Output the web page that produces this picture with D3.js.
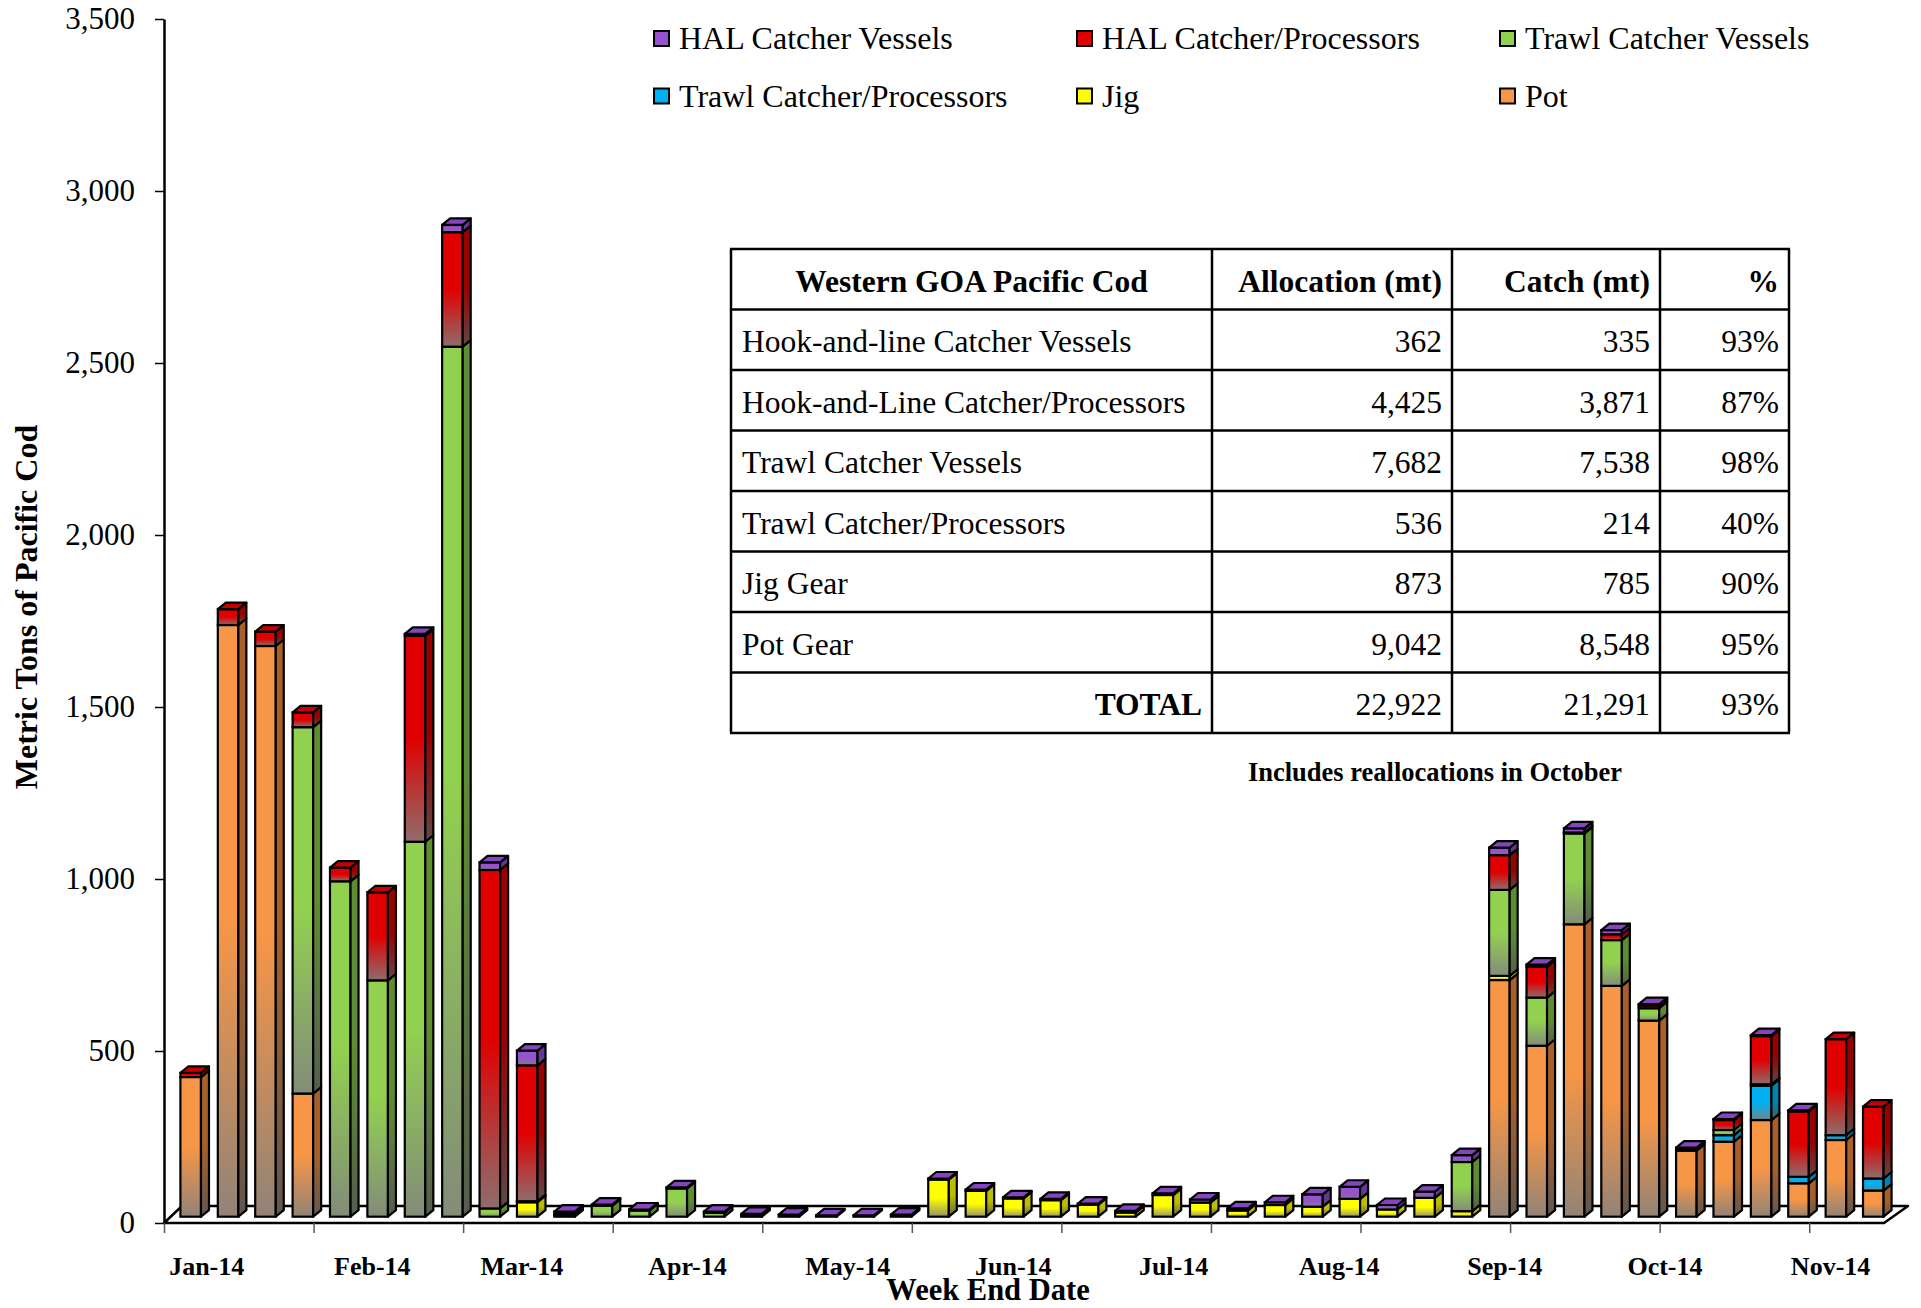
<!DOCTYPE html>
<html>
<head>
<meta charset="utf-8">
<script src="https://cdn.jsdelivr.net/npm/d3@7"></script>
<style>
  body { margin: 0; background: #fff; }
  svg { display: block; font-family: 'Liberation Serif', 'Times New Roman', serif; }
</style>
</head>
<body>
<svg width="1921" height="1308"></svg>
<script>
// week end dates (categories)
let weekEnd = [
  '2014-01-04', '2014-01-11', '2014-01-18', '2014-01-25', '2014-02-01', '2014-02-08', '2014-02-15', '2014-02-22',
  '2014-03-01', '2014-03-08', '2014-03-15', '2014-03-22', '2014-03-29', '2014-04-05', '2014-04-12', '2014-04-19',
  '2014-04-26', '2014-05-03', '2014-05-10', '2014-05-17', '2014-05-24', '2014-05-31', '2014-06-07', '2014-06-14',
  '2014-06-21', '2014-06-28', '2014-07-05', '2014-07-12', '2014-07-19', '2014-07-26', '2014-08-02', '2014-08-09',
  '2014-08-16', '2014-08-23', '2014-08-30', '2014-09-06', '2014-09-13', '2014-09-20', '2014-09-27', '2014-10-04',
  '2014-10-11', '2014-10-18', '2014-10-25', '2014-11-01', '2014-11-08', '2014-11-15'
]
let monthLabels = ['Jan-14', 'Feb-14', 'Mar-14', 'Apr-14', 'May-14', 'Jun-14', 'Jul-14', 'Aug-14', 'Sep-14', 'Oct-14', 'Nov-14']
let yTicks = [0, 500, 1000, 1500, 2000, 2500, 3000, 3500]

// metric tons per week, stacked bottom to top
let pot = [406, 1720, 1659, 358, 0, 0, 0, 0, 0, 0,
  0, 0, 0, 0, 0, 0, 0, 0, 0, 0,
  0, 0, 0, 0, 0, 0, 0, 0, 0, 0,
  0, 0, 0, 0, 0, 688, 497, 850, 671, 570,
  192, 218, 281, 97, 223, 76]
let jig = [0, 0, 0, 0, 0, 0, 0, 0, 0, 42,
  0, 0, 0, 0, 0, 0, 0, 0, 0, 0,
  108, 75, 53, 48, 35, 12, 63, 41, 18, 34,
  29, 52, 21, 55, 16, 12, 0, 0, 0, 0,
  0, 0, 0, 0, 0, 0]
let trawlCP = [0, 0, 0, 0, 0, 0, 0, 0, 0, 0,
  0, 0, 0, 0, 0, 0, 0, 0, 0, 0,
  0, 0, 0, 0, 0, 0, 0, 0, 0, 0,
  0, 0, 0, 0, 0, 0, 0, 0, 0, 0,
  0, 19, 100, 19, 14, 35]
let trawlCV = [0, 0, 0, 1065, 975, 687, 1090, 2529, 24, 3,
  3, 32, 18, 82, 11, 0, 0, 0, 0, 0,
  0, 0, 0, 0, 0, 0, 0, 0, 0, 0,
  0, 0, 0, 0, 143, 250, 140, 264, 133, 36,
  6, 15, 4, 0, 0, 0]
let halCP = [12, 46, 42, 43, 40, 256, 599, 333, 984, 395,
  5, 0, 0, 0, 0, 2, 0, 0, 0, 0,
  0, 0, 0, 0, 0, 0, 0, 0, 0, 0,
  0, 0, 0, 0, 0, 101, 90, 3, 17, 8,
  0, 29, 140, 190, 279, 209]
let halCV = [0, 0, 0, 0, 0, 0, 5, 21, 22, 43,
  7, 3, 3, 3, 4, 6, 6, 4, 4, 6,
  3, 4, 3, 4, 3, 5, 5, 9, 6, 8,
  36, 35, 13, 18, 20, 22, 6, 12, 12, 4,
  3, 3, 3, 3, 0, 0]

// summary table
let tableHeader = ['Western GOA Pacific Cod', 'Allocation (mt)', 'Catch (mt)', '%']
let sectors = ['Hook-and-line Catcher Vessels', 'Hook-and-Line Catcher/Processors', 'Trawl Catcher Vessels',
  'Trawl Catcher/Processors', 'Jig Gear', 'Pot Gear']
let allocation = [362, 4425, 7682, 536, 873, 9042]
let catchMt = [335, 3871, 7538, 214, 785, 8548]
let percent = ['93%', '87%', '98%', '40%', '90%', '95%']
let totalRow = ['TOTAL', 22922, 21291, '93%']

let keys = ['pot', 'jig', 'trawlCP', 'trawlCV', 'halCP', 'halCV']
let names = {
  halCV: 'HAL Catcher Vessels', halCP: 'HAL Catcher/Processors', trawlCV: 'Trawl Catcher Vessels',
  trawlCP: 'Trawl Catcher/Processors', jig: 'Jig', pot: 'Pot'
}
let legendOrder = ['halCV', 'halCP', 'trawlCV', 'trawlCP', 'jig', 'pot']
let colors = {
  pot: {front: '#F79646', side: '#A8602A', top: '#E4863A'},
  jig: {front: '#FFFF00', side: '#BDBD00', top: '#E8E800'},
  trawlCP: {front: '#00B0F0', side: '#0083B3', top: '#00A0DA'},
  trawlCV: {front: '#92D050', side: '#5E8C30', top: '#84BF46'},
  halCP: {front: '#E00000', side: '#990000', top: '#C80000'},
  halCV: {front: '#9652CF', side: '#66349A', top: '#8445BE'}
}

let svg = d3.select('svg')
let serif = "'Liberation Serif', 'Times New Roman', serif"

let x0 = 164, x1 = 1884
let floorY = 1223
let floorDepth = {dxLeft: 18, dxRight: 24, dy: 17}
let shift = {dx: 8, dy: 6.3}      // bar front face sits a bit back on the floor
let side = {dx: 8, dy: 6.5}       // bar depth

let x = d3.scaleBand().domain(weekEnd).range([x0, x1]).paddingInner(0.45).paddingOuter(0.225)
let idx = d3.scaleLinear().domain([0, weekEnd.length]).range([x0, x1])
let t = d3.scaleTime().domain([new Date(2013, 11, 28), new Date(2014, 10, 15)]).range([x0, x1])
let y = d3.scaleLinear().domain([0, 3500]).range([floorY, 19])

// gradients: colour at top fading to grey at the bottom of each segment
let defs = svg.append('defs')
keys.forEach(k => {
  let f = defs.append('linearGradient').attr('id', 'front-' + k)
    .attr('x1', 0).attr('y1', 0).attr('x2', 0).attr('y2', 1)
  f.append('stop').attr('offset', 0).attr('stop-color', colors[k].front)
  f.append('stop').attr('offset', 0.5).attr('stop-color', colors[k].front)
  f.append('stop').attr('offset', 1).attr('stop-color', d3.interpolateRgb(colors[k].front, '#808080')(0.85))
  let s = defs.append('linearGradient').attr('id', 'side-' + k)
    .attr('x1', 0).attr('y1', 0).attr('x2', 0).attr('y2', 1)
  s.append('stop').attr('offset', 0).attr('stop-color', colors[k].side)
  s.append('stop').attr('offset', 0.5).attr('stop-color', colors[k].side)
  s.append('stop').attr('offset', 1).attr('stop-color', d3.interpolateRgb(colors[k].side, '#555555')(0.85))
})

// floor
svg.append('path')
  .attr('d', 'M' + x0 + ',' + floorY + 'L' + x1 + ',' + floorY +
    'L' + (x1 + floorDepth.dxRight) + ',' + (floorY - floorDepth.dy) +
    'L' + (x0 + floorDepth.dxLeft) + ',' + (floorY - floorDepth.dy) + 'Z')
  .attr('fill', '#fff')
  .attr('stroke', '#000')
  .attr('stroke-width', 2.5)
  .attr('stroke-linejoin', 'round')

// stacked 3-D columns
let rows = weekEnd.map((w, i) => ({
  week: w, pot: pot[i], jig: jig[i], trawlCP: trawlCP[i], trawlCV: trawlCV[i], halCP: halCP[i], halCV: halCV[i]
}))
let stacked = d3.stack().keys(keys)(rows)
let bars = rows.map((r, i) => ({
  week: r.week,
  segs: stacked.map(s => ({key: s.key, lo: s[i][0], hi: s[i][1]})).filter(s => s.hi > s.lo)
}))

let bw = x.bandwidth()
svg.append('g')
    .attr('class', 'bars')
  .selectAll('g')
  .data(bars)
  .enter().append('g')
  .each(function(d) {
    let g = d3.select(this)
    let bx = x(d.week) + shift.dx
    d.segs.forEach(s => {
      let top = y(s.hi) - shift.dy
      let bot = y(s.lo) - shift.dy
      g.append('rect')
        .attr('x', bx).attr('y', top)
        .attr('width', bw).attr('height', bot - top)
        .attr('fill', 'url(#front-' + s.key + ')')
        .attr('stroke', '#000').attr('stroke-width', 2.2)
      g.append('path')
        .attr('d', 'M' + (bx + bw) + ',' + top + 'l' + side.dx + ',' + (-side.dy) +
          'L' + (bx + bw + side.dx) + ',' + (bot - side.dy) + 'L' + (bx + bw) + ',' + bot + 'Z')
        .attr('fill', 'url(#side-' + s.key + ')')
        .attr('stroke', '#000').attr('stroke-width', 2.2).attr('stroke-linejoin', 'round')
    })
    let last = d.segs[d.segs.length - 1]
    if (!last) return
    let top = y(last.hi) - shift.dy
    g.append('path')
      .attr('d', 'M' + bx + ',' + top + 'l' + side.dx + ',' + (-side.dy) + 'h' + bw + 'l' + (-side.dx) + ',' + side.dy + 'Z')
      .attr('fill', colors[last.key].top)
      .attr('stroke', '#000').attr('stroke-width', 2.2).attr('stroke-linejoin', 'round')
  })

// value axis
svg.append('g')
    .attr('transform', 'translate(' + x0 + ',0)')
    .call(d3.axisLeft(y).tickValues(yTicks).tickFormat(d3.format(',')).tickSize(9).tickSizeOuter(0).tickPadding(20))
    .call(g => g.attr('font-family', serif).attr('font-size', 31))
    .call(g => g.select('.domain').attr('stroke', '#000').attr('stroke-width', 2.5))
    .call(g => g.selectAll('.tick line').attr('stroke', '#000').attr('stroke-width', 1.5))
    .call(g => g.selectAll('.tick text').attr('fill', '#000'))

// category ticks every four weeks
svg.append('g')
    .attr('transform', 'translate(0,' + floorY + ')')
    .call(d3.axisBottom(idx).tickValues(d3.range(0, weekEnd.length, 4)).tickFormat('').tickSize(10).tickSizeOuter(0))
    .call(g => g.select('.domain').remove())
    .call(g => g.selectAll('.tick line').attr('stroke', '#555').attr('stroke-width', 1.5))

svg.append('g')
  .selectAll('text')
  .data(monthLabels)
  .enter().append('text')
    .attr('x', (d, i) => t(new Date(2014, i, 5)))
    .attr('y', 1275)
    .attr('text-anchor', 'middle')
    .attr('font-size', 26)
    .attr('font-weight', 'bold')
    .text(d => d)

svg.append('text')
  .attr('x', 988).attr('y', 1300)
  .attr('text-anchor', 'middle')
  .attr('font-size', 30.5).attr('font-weight', 'bold')
  .text('Week End Date')

svg.append('text')
  .attr('transform', 'translate(37,607) rotate(-90)')
  .attr('text-anchor', 'middle')
  .attr('font-size', 32).attr('font-weight', 'bold')
  .text('Metric Tons of Pacific Cod')

// legend, two rows of three
let legend = svg.append('g')
  .selectAll('g')
  .data(legendOrder)
  .enter().append('g')
    .attr('transform', (d, i) => 'translate(' + [654, 1077, 1500][i % 3] + ',' + (38.5 + Math.floor(i / 3) * 57.5) + ')')
legend.append('rect')
  .attr('x', 0).attr('y', -7.5).attr('width', 15).attr('height', 15)
  .attr('fill', d => colors[d].front)
  .attr('stroke', '#000').attr('stroke-width', 2)
legend.append('text')
  .attr('x', 25).attr('y', 10.5)
  .attr('font-size', 32)
  .text(d => names[d])

// allocation table
let colEdges = [731, 1212, 1452, 1660, 1789]
let tableTop = 249, rowH = 60.5
let fmt = d3.format(',')
let tableRows = [tableHeader]
  .concat(sectors.map((s, i) => [s, fmt(allocation[i]), fmt(catchMt[i]), percent[i]]))
  .concat([[totalRow[0], fmt(totalRow[1]), fmt(totalRow[2]), totalRow[3]]])

let table = svg.append('g')
table.selectAll('line.h')
  .data(d3.range(tableRows.length + 1))
  .enter().append('line')
    .attr('x1', colEdges[0] - 1).attr('x2', colEdges[colEdges.length - 1] + 1)
    .attr('y1', d => tableTop + d * rowH).attr('y2', d => tableTop + d * rowH)
    .attr('stroke', '#000').attr('stroke-width', 2.5)
table.selectAll('line.v')
  .data(colEdges)
  .enter().append('line')
    .attr('x1', d => d).attr('x2', d => d)
    .attr('y1', tableTop).attr('y2', tableTop + tableRows.length * rowH)
    .attr('stroke', '#000').attr('stroke-width', 2.5)

tableRows.forEach((r, ri) => {
  let yy = tableTop + (ri + 0.5) * rowH + 12.5
  r.forEach((cell, ci) => {
    let header = ri === 0
    let total = ri === tableRows.length - 1 && ci === 0
    let anchor, xx
    if (ci === 0 && header) { anchor = 'middle'; xx = (colEdges[0] + colEdges[1]) / 2 }
    else if (ci === 0 && !total) { anchor = 'start'; xx = colEdges[0] + 11 }
    else { anchor = 'end'; xx = colEdges[ci + 1] - 10 }
    table.append('text')
      .attr('x', xx).attr('y', yy)
      .attr('text-anchor', anchor)
      .attr('font-size', 31.5)
      .attr('font-weight', header || total ? 'bold' : 'normal')
      .text(cell)
  })
})

svg.append('text')
  .attr('x', 1435).attr('y', 781)
  .attr('text-anchor', 'middle')
  .attr('font-size', 26.5).attr('font-weight', 'bold')
  .text('Includes reallocations in October')
</script>
</body>
</html>
